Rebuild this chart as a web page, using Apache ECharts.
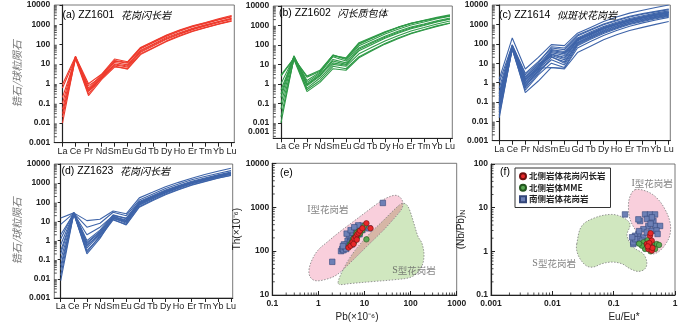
<!DOCTYPE html>
<html>
<head>
<meta charset="utf-8">
<script src="https://cdn.jsdelivr.net/npm/echarts@6/dist/echarts.min.js"></script>
<style>
html, body { margin: 0; padding: 0; background: #fff; }
#chart { width: 700px; height: 323px; }
</style>
</head>
<body>
<div id="chart"></div>
<script>
// 稀土元素
var ree = ['La', 'Ce', 'Pr', 'Nd', 'Sm', 'Eu', 'Gd', 'Tb', 'Dy', 'Ho', 'Er', 'Tm', 'Yb', 'Lu'];

// 锆石稀土球粒陨石标准化值（按测点）
var zz1601 = [
    [0.01, 22, 0.3, 2.0, 9, 7, 40, 85, 180, 330, 560, 850, 1300, 1900],
    [0.05, 25, 0.5, 2.5, 14, 11, 60, 125, 260, 460, 780, 1150, 1750, 2500],
    [0.9, 24, 1.0, 3.0, 18, 13, 70, 145, 300, 530, 880, 1300, 2000, 2900],
    [0.6, 20, 0.8, 2.2, 12, 9, 50, 105, 220, 390, 650, 980, 1450, 2100],
    [0.02, 18, 0.25, 1.6, 7, 6, 33, 70, 150, 280, 480, 730, 1100, 1600],
    [0.1, 23, 0.6, 2.8, 15, 12, 65, 135, 280, 500, 830, 1230, 1850, 2700],
    [0.03, 21, 0.4, 1.8, 8, 5.5, 30, 65, 140, 260, 450, 690, 1050, 1500],
    [0.2, 19, 0.45, 2.0, 10, 8, 45, 95, 200, 360, 610, 920, 1400, 2000]
];
var zz1602 = [
    [2.5, 20, 2.5, 5, 30, 20, 120, 230, 450, 780, 1250, 1750, 2400, 3200],
    [0.01, 22, 0.5, 1.5, 8, 6, 25, 55, 120, 230, 400, 620, 950, 1350],
    [0.1, 25, 0.8, 2.5, 15, 10, 50, 105, 220, 400, 680, 1000, 1500, 2100],
    [0.3, 28, 1.2, 3.5, 25, 15, 90, 180, 360, 640, 1050, 1500, 2200, 3000],
    [0.05, 18, 0.4, 1.2, 6, 5, 22, 50, 110, 210, 380, 590, 900, 1300],
    [1.0, 24, 1.5, 4, 30, 18, 110, 220, 440, 780, 1280, 1850, 2600, 3500],
    [0.5, 22, 0.9, 2.8, 18, 12, 70, 140, 280, 500, 830, 1200, 1750, 2400],
    [0.02, 20, 0.6, 2.0, 10, 8, 35, 75, 160, 300, 520, 780, 1200, 1700],
    [0.2, 26, 1.0, 3.0, 12, 9, 60, 125, 250, 450, 750, 1100, 1600, 2200],
    [2.8, 21, 2.2, 4.5, 28, 22, 130, 250, 480, 820, 1300, 1800, 2400, 3100]
];
var zz1614 = [
    [1.5, 200, 5, 20, 90, 80, 350, 700, 1400, 2400, 3800, 5400, 7500, 10000],
    [0.015, 60, 0.3, 1.2, 6, 5, 35, 75, 160, 290, 480, 700, 1000, 1400],
    [0.2, 70, 1.0, 5, 30, 20, 150, 300, 600, 1000, 1600, 2200, 3000, 4000],
    [0.1, 80, 1.5, 7, 40, 30, 180, 360, 700, 1150, 1800, 2500, 3400, 4500],
    [0.05, 65, 0.8, 4, 25, 15, 120, 250, 500, 850, 1350, 1900, 2600, 3500],
    [0.3, 75, 2.0, 8, 50, 40, 200, 400, 780, 1300, 2000, 2800, 3800, 5000],
    [0.02, 55, 0.5, 3, 20, 12, 100, 210, 420, 720, 1150, 1650, 2300, 3000],
    [0.5, 90, 3.0, 12, 60, 50, 250, 500, 950, 1550, 2400, 3300, 4400, 5800],
    [0.08, 60, 0.7, 3.5, 15, 8, 90, 190, 380, 660, 1080, 1550, 2150, 2800],
    [0.15, 70, 1.2, 6, 35, 25, 160, 320, 630, 1050, 1650, 2300, 3100, 4100],
    [0.03, 50, 0.4, 2.5, 10, 6, 80, 170, 340, 600, 980, 1400, 1950, 2600],
    [1.0, 85, 2.5, 10, 70, 60, 280, 550, 1050, 1700, 2650, 3600, 4800, 6200],
    [0.25, 72, 1.4, 6.5, 28, 18, 140, 280, 560, 950, 1500, 2100, 2900, 3800],
    [0.04, 62, 0.6, 4.5, 45, 35, 170, 340, 670, 1100, 1750, 2450, 3300, 4300],
    [0.12, 78, 1.8, 9, 22, 10, 110, 230, 460, 800, 1280, 1800, 2500, 3300],
    [0.07, 68, 0.9, 5.5, 6, 5.5, 60, 130, 270, 480, 800, 1200, 1700, 2300]
];
var zz1623 = [
    [15, 28, 11, 13, 35, 25, 170, 330, 650, 1100, 1800, 2800, 4200, 6000],
    [7, 27, 5, 8, 30, 20, 130, 260, 520, 900, 1500, 2200, 3200, 4500],
    [2, 26, 2, 5, 20, 15, 110, 220, 440, 760, 1250, 1850, 2700, 3800],
    [0.6, 28, 0.8, 3, 18, 12, 90, 190, 380, 660, 1100, 1650, 2400, 3400],
    [0.1, 25, 0.3, 1.5, 12, 7, 60, 130, 270, 480, 820, 1250, 1850, 2600],
    [0.03, 27, 0.2, 1.3, 15, 8, 70, 150, 310, 550, 920, 1400, 2050, 2900],
    [0.008, 26, 0.5, 2.5, 16, 9, 80, 170, 340, 600, 1000, 1500, 2200, 3100],
    [0.3, 29, 0.6, 2, 14, 10, 85, 175, 350, 620, 1030, 1550, 2250, 3200],
    [0.05, 24, 0.25, 1.8, 13, 6.5, 55, 120, 250, 450, 780, 1200, 1800, 2500],
    [1.2, 30, 1.0, 3.5, 22, 14, 100, 200, 400, 700, 1150, 1700, 2500, 3500],
    [0.015, 26, 0.4, 2.2, 17, 11, 95, 195, 390, 680, 1120, 1680, 2450, 3450],
    [0.2, 27, 0.7, 2.8, 19, 9.5, 75, 160, 320, 570, 950, 1450, 2100, 3000]
];

// (e) Pb - Th
var eGranodiorite = [[4.5, 120], [5.0, 132], [5.5, 160], [6.0, 192], [6.5, 212], [7.0, 242], [7.5, 262], [8.0, 292], [9.0, 332], [11, 430], [13.5, 330], [5.8, 145], [6.8, 182]];
var eMME = [[4.8, 140], [5.2, 152], [5.5, 172], [6.0, 162], [6.2, 202], [6.5, 232], [7.0, 212], [7.5, 282], [8.0, 252], [9.0, 302], [10, 380], [11, 185], [5.7, 192], [6.8, 262]];
var eSouth = [[2.0, 57], [3.1, 100], [3.3, 112], [3.5, 105], [3.8, 122], [4.0, 140], [4.2, 128], [4.5, 152], [4.3, 172], [4.8, 160], [5.0, 182], [5.2, 205], [5.5, 176], [5.8, 212], [6.0, 232], [6.3, 252], [6.5, 222], [7.0, 272], [7.2, 305], [7.5, 262], [8.0, 322], [8.5, 345], [9.0, 302], [9.5, 350], [4.6, 232], [5.6, 262], [6.8, 332], [3.6, 142], [12.5, 330], [25, 1250], [5.3, 142], [7.8, 242], [4.0, 112], [8.8, 380], [3.4, 130], [4.1, 250], [5.0, 300], [7.3, 385], [6.0, 350]];

// (f) Eu/Eu* - (Nb/Pb)N
var fGranodiorite = [[0.392, 2.27], [0.418, 1.75], [0.392, 1.35], [0.368, 1.13], [0.418, 1.04], [0.347, 1.47], [0.40, 2.6], [0.38, 1.55], [0.43, 1.2], [0.36, 1.3]];
var fMME = [[0.305, 1.61], [0.347, 1.35], [0.445, 1.35], [0.505, 1.47], [0.325, 1.13], [0.473, 1.13], [0.288, 1.35], [0.36, 1.8], [0.42, 1.55], [0.26, 1.5], [0.55, 1.4], [0.4, 1.0]];
var fSouth = [[0.153, 7.0], [0.27, 4.95], [0.325, 7.0], [0.392, 7.0], [0.473, 7.0], [0.445, 4.95], [0.368, 3.81], [0.473, 3.81], [0.571, 3.81], [0.305, 3.21], [0.253, 2.48], [0.223, 2.27], [0.238, 1.61], [0.305, 2.08], [0.347, 2.7], [0.209, 1.47], [0.253, 1.91], [0.418, 2.94], [0.288, 1.75], [0.209, 1.61], [0.223, 1.9], [0.35, 5.5], [0.42, 6.0], [0.5, 3.0], [0.2, 2.1], [0.26, 2.9], [0.4, 4.3], [0.52, 2.5], [0.253, 5.4]];

// 判别区边界
var zoneIe = [[0.625, 37.5], [0.726, 62.7], [0.98, 105], [1.61, 166], [2.94, 278], [5.63, 465], [10.8, 778], [19.6, 1236], [32.4, 1680], [48.2, 1862], [61.9, 1597], [68.4, 1173], [61.9, 861], [39.5, 490], [25.2, 293], [11.3, 129], [4.84, 53.7], [2.53, 29], [1.39, 22.4], [0.843, 21.3], [0.658, 26.1]];
var zoneSe = [[2.66, 19.2], [3.42, 37.5], [5.63, 89.8], [11.3, 215], [25.2, 490], [53.3, 1059], [68.4, 1236], [83.6, 1114], [97, 818], [118.6, 420], [145, 215], [176.6, 150], [195, 76.9], [168, 41.5], [107, 26.1], [45.9, 22.4], [14.6, 20.2], [4.84, 18.2], [2.94, 17.3]];
var zoneIf = [[0.223, 25.8], [0.347, 23.6], [0.505, 16.7], [0.689, 9.1], [0.832, 4.55], [0.832, 2.48], [0.734, 1.61], [0.571, 1.04], [0.445, 0.873], [0.368, 0.955], [0.305, 1.47], [0.238, 2.7], [0.185, 5.4], [0.174, 10.8], [0.185, 18.2]];
var zoneSf = [[0.025, 1.47], [0.0302, 3.81], [0.0498, 5.9], [0.0931, 7.0], [0.144, 5.9], [0.185, 4.17], [0.165, 2.3], [0.21, 1.24], [0.305, 0.873], [0.347, 0.567], [0.325, 0.40], [0.253, 0.347], [0.185, 0.40], [0.136, 0.519], [0.0931, 0.567], [0.064, 0.519], [0.0467, 0.437], [0.0364, 0.46], [0.0283, 0.673], [0.025, 1.04]];

var legendNames = ['北侧岩体花岗闪长岩', '北侧岩体MME', '南侧岩体花岗岩'];

var chart = echarts.init(document.getElementById('chart'));

var FONT = '"Liberation Sans", Arial, sans-serif';
var CJK = '"Noto Sans CJK SC", sans-serif';
var INK = '#222';

function fmtLog(v) { return String(+v.toPrecision(3)); }

var spider = [
    { grid: { left: 54.3, top: 5, width: 180, height: 137.7 }, xr: [-0.63, 13.21], ymin: 0.001, data: zz1601, color: '#ee3a2c', yname: true },
    { grid: { left: 273.3, top: 6, width: 179, height: 132.3 }, xr: [-0.59, 13.18], ymin: 0.0016, data: zz1602, color: '#2f9a47' },
    { grid: { left: 492.3, top: 5, width: 178, height: 135.7 }, xr: [-0.53, 13.12], ymin: 0.001, data: zz1614, color: '#3e64a9' },
    { grid: { left: 54.3, top: 164, width: 178.4, height: 134 }, xr: [-0.49, 13.13], ymin: 0.001, data: zz1623, color: '#3e64a9', yname: true }
];

var grids = [], xAxes = [], yAxes = [], series = [];

function minorTicks(gi, xLo, xHi, yLo, yHi, xLog) {
    return {
        type: 'custom', xAxisIndex: gi, yAxisIndex: gi, silent: true, z: 10, clip: false,
        data: [[xLo, yLo]],
        renderItem: function (params, api) {
            var kids = [];
            function each(lo, hi, fn) {
                for (var e = Math.floor(Math.log10(lo) + 1e-9); e < Math.ceil(Math.log10(hi) - 1e-9); e++) {
                    for (var m = 2; m <= 9; m++) {
                        var v = m * Math.pow(10, e);
                        if (v > lo && v < hi) fn(v);
                    }
                }
            }
            each(yLo, yHi, function (v) {
                var p = api.coord([xLo, v]);
                kids.push({ type: 'line', shape: { x1: p[0], y1: p[1], x2: p[0] + 2.5, y2: p[1] }, style: { stroke: INK, lineWidth: 0.8 } });
            });
            if (xLog) {
                each(xLo, xHi, function (v) {
                    var p = api.coord([v, yLo]);
                    kids.push({ type: 'line', shape: { x1: p[0], y1: p[1], x2: p[0], y2: p[1] - 2.5 }, style: { stroke: INK, lineWidth: 0.8 } });
                });
            }
            return { type: 'group', children: kids };
        }
    };
}

var axisLine = { lineStyle: { color: INK, width: 1.2 } };
var tickLabel = { fontSize: 8.5, fontWeight: 'bold', color: INK, fontFamily: FONT };

spider.forEach(function (p, gi) {
    grids.push(Object.assign({ show: true, borderColor: '#555', borderWidth: 0.8 }, p.grid));
    var idx = ree.map(function (_, i) { return i; });
    xAxes.push({
        type: 'value', gridIndex: gi, min: p.xr[0], max: p.xr[1],
        axisLine: axisLine, splitLine: { show: false },
        axisTick: { customValues: idx, length: 4, lineStyle: { color: INK } },
        axisLabel: { customValues: idx, margin: 4, fontSize: 9, color: INK, fontFamily: FONT,
            formatter: function (v) { return ree[Math.round(v)]; } }
    });
    yAxes.push({
        type: 'log', logBase: 10, gridIndex: gi, min: p.ymin, max: 10000,
        axisLine: axisLine, splitLine: { show: false },
        axisTick: { length: 3, lineStyle: { color: INK } },
        axisLabel: Object.assign({
            margin: 4,
            formatter: function (v) { return v < 0.002 && p.ymin > 0.001 ? '{lo|0.001}' : fmtLog(v); },
            rich: { lo: { fontSize: 8.5, fontWeight: 'bold', color: INK, fontFamily: FONT, padding: [0, 0, 13, 0] } }
        }, tickLabel),
        name: p.yname ? '锆石/球粒陨石' : '', nameLocation: 'middle', nameGap: 27, nameRotate: 90,
        nameTextStyle: { fontSize: 10.5, color: '#777', fontFamily: CJK, fontStyle: 'italic' }
    });
    p.data.forEach(function (row) {
        series.push({
            type: 'line', xAxisIndex: gi, yAxisIndex: gi, silent: true, symbol: 'none', z: 3,
            lineStyle: { color: p.color, width: 1.1 },
            data: row.map(function (v, i) { return [i, v]; })
        });
    });
    series.push(minorTicks(gi, p.xr[0], p.xr[1], p.ymin, 10000, false));
});

// (e) and (f)
var scat = [
    { grid: { left: 272.3, top: 163.3, width: 184.4, height: 134.4 }, x: [0.1, 1000], y: [10, 10000],
      xname: 'Pb(×10⁻⁶)', yname: 'Th(×10⁻⁶)', xpad: [0, 15, 0, 0], ygap: 25,
      sets: [eSouth, eMME, eGranodiorite], zones: [zoneSe, zoneIe],
      labels: [[1.61, 908], [118.6, 35.6]] },
    { grid: { left: 491, top: 164, width: 184, height: 132.7 }, x: [0.001, 1], y: [0.1, 100],
      xname: 'Eu/Eu*', yname: '(Nb/Pb){sub|N}', xpad: [0, 0, 0, 82], ygap: 24,
      sets: [fSouth, fMME, fGranodiorite], zones: [zoneSf, zoneIf],
      labels: [[0.423, 36.2], [0.0107, 0.519]] }
];

var marks = [
    { name: legendNames[2], symbol: 'rect', size: 5.5, color: '#6d80b6', border: '#34477a', z: 6 },
    { name: legendNames[1], symbol: 'circle', size: 5.5, color: '#58a852', border: '#23561f', z: 7 },
    { name: legendNames[0], symbol: 'circle', size: 5.5, color: '#e8282a', border: '#6e0f0f', z: 8 }
];

// 凸多边形裁剪（Sutherland–Hodgman），用于求两区重叠部分
function clipPoly(subject, clip) {
    var area = 0;
    for (var i = 0; i < clip.length; i++) {
        var c0 = clip[i], c1 = clip[(i + 1) % clip.length];
        area += c0[0] * c1[1] - c1[0] * c0[1];
    }
    var s = area > 0 ? 1 : -1;
    var out = subject;
    for (var k = 0; k < clip.length && out.length; k++) {
        var a = clip[k], b = clip[(k + 1) % clip.length];
        var inside = function (p) { return s * ((b[0] - a[0]) * (p[1] - a[1]) - (b[1] - a[1]) * (p[0] - a[0])) >= 0; };
        var cross = function (p, q) {
            var d1 = [q[0] - p[0], q[1] - p[1]], d2 = [b[0] - a[0], b[1] - a[1]];
            var den = d1[0] * d2[1] - d1[1] * d2[0];
            var t = ((a[0] - p[0]) * d2[1] - (a[1] - p[1]) * d2[0]) / den;
            return [p[0] + t * d1[0], p[1] + t * d1[1]];
        };
        var input = out;
        out = [];
        for (var j = 0; j < input.length; j++) {
            var cur = input[j], prev = input[(j + input.length - 1) % input.length];
            var ci = inside(cur), pi = inside(prev);
            if (ci) {
                if (!pi) out.push(cross(prev, cur));
                out.push(cur);
            } else if (pi) {
                out.push(cross(prev, cur));
            }
        }
    }
    return out;
}

function zoneSeries(gi, lower, upper) {
    return {
        type: 'custom', xAxisIndex: gi, yAxisIndex: gi, silent: true, z: 1,
        data: lower,
        renderItem: function (params, api) {
            if (params.dataIndex !== 0) return null;
            var pl = lower.map(function (q) { return api.coord(q); });
            var pu = upper.map(function (q) { return api.coord(q); });
            var both = clipPoly(pl, pu);
            var edge = { fill: null, stroke: '#7c7c7c', lineWidth: 0.8, lineDash: [1.5, 1.5] };
            var kids = [
                { type: 'polygon', shape: { points: pl, smooth: 0.35 }, style: { fill: '#d0e7bf' } },
                { type: 'polygon', shape: { points: pu, smooth: 0.35 }, style: { fill: '#f9cfdc' } }
            ];
            if (both.length > 2) {
                kids.push({ type: 'polygon', shape: { points: both }, style: { fill: '#d6b6a6' } });
            }
            kids.push({ type: 'polygon', shape: { points: pl, smooth: 0.35 }, style: edge });
            kids.push({ type: 'polygon', shape: { points: pu, smooth: 0.35 }, style: edge });
            return { type: 'group', children: kids };
        }
    };
}

scat.forEach(function (p, k) {
    var gi = 4 + k;
    grids.push(Object.assign({ show: true, borderColor: '#555', borderWidth: 0.8 }, p.grid));
    var nameStyle = { fontSize: 10, color: INK, fontFamily: FONT,
        rich: { sub: { fontSize: 7, color: INK, fontFamily: FONT, verticalAlign: 'bottom', padding: [5, 0, 0, 0] } } };
    xAxes.push({
        type: 'log', logBase: 10, gridIndex: gi, min: p.x[0], max: p.x[1],
        axisLine: axisLine, splitLine: { show: false },
        axisTick: { inside: true, length: 4, lineStyle: { color: INK } },
        axisLabel: Object.assign({ margin: 4, formatter: fmtLog }, tickLabel),
        name: p.xname, nameLocation: 'middle', nameGap: 17,
        nameTextStyle: Object.assign({ padding: p.xpad }, nameStyle)
    });
    yAxes.push({
        type: 'log', logBase: 10, gridIndex: gi, min: p.y[0], max: p.y[1],
        axisLine: axisLine, splitLine: { show: false },
        axisTick: { inside: true, length: 4, lineStyle: { color: INK } },
        axisLabel: Object.assign({ margin: 3, formatter: fmtLog }, tickLabel),
        name: p.yname, nameLocation: 'middle', nameGap: p.ygap, nameRotate: 90,
        nameTextStyle: nameStyle
    });
    series.push(zoneSeries(gi, p.zones[0], p.zones[1]));
    var zoneText = ['{i|I}{c|型花岗岩}', '{i|S}{c|型花岗岩}'];
    series.push({
        type: 'scatter', xAxisIndex: gi, yAxisIndex: gi, silent: true, z: 4,
        symbolSize: 0,
        data: p.labels.map(function (q, j) { return { value: q, label: { formatter: zoneText[j] } }; }),
        label: {
            show: true, position: 'inside',
            rich: {
                i: { fontSize: 10, color: '#555', fontFamily: '"Liberation Serif", serif' },
                c: { fontSize: 9.5, color: '#666', fontFamily: CJK }
            }
        }
    });
    p.sets.forEach(function (set, j) {
        var m = marks[j];
        series.push({
            type: 'scatter', name: m.name, xAxisIndex: gi, yAxisIndex: gi, z: m.z,
            symbol: m.symbol, symbolSize: m.size,
            itemStyle: { color: m.color, borderColor: m.border, borderWidth: 0.6, opacity: 1 },
            data: set
        });
    });
    series.push(minorTicks(gi, p.x[0], p.x[1], p.y[0], p.y[1], true));
});

function title(x, y, head, cn) {
    return {
        type: 'text', x: x, y: y, z: 20,
        style: {
            text: cn ? '{t|' + head + '}  {c|' + cn + '}' : '{t|' + head + '}',
            verticalAlign: 'middle',
            rich: {
                t: { fontSize: 10.5, color: INK, fontFamily: FONT },
                c: { fontSize: 10, color: '#666', fontFamily: CJK, fontStyle: 'italic' }
            }
        }
    };
}

var option = {
    animation: false,
    backgroundColor: '#fff',
    grid: grids,
    xAxis: xAxes,
    yAxis: yAxes,
    legend: {
        data: legendNames, orient: 'vertical', left: 515, top: 168,
        selectedMode: false, itemWidth: 6, itemHeight: 6, itemGap: 3,
        padding: [4, 5, 4, 4], borderColor: '#333', borderWidth: 1, backgroundColor: '#fff',
        textStyle: { fontSize: 8.5, fontWeight: 'bold', color: INK, fontFamily: CJK, padding: [0, 0, 0, -2] }
    },
    graphic: [
        title(62.5, 15, '(a) ZZ1601', '花岗闪长岩'),
        title(279, 13.5, '(b) ZZ1602', '闪长质包体'),
        title(499, 15, '(c) ZZ1614', '似斑状花岗岩'),
        title(61.5, 171, '(d) ZZ1623', '花岗闪长岩'),
        title(280, 173, '(e)'),
        title(500, 172.5, '(f)')
    ],
    series: series
};

chart.setOption(option);
</script>
</body>
</html>
